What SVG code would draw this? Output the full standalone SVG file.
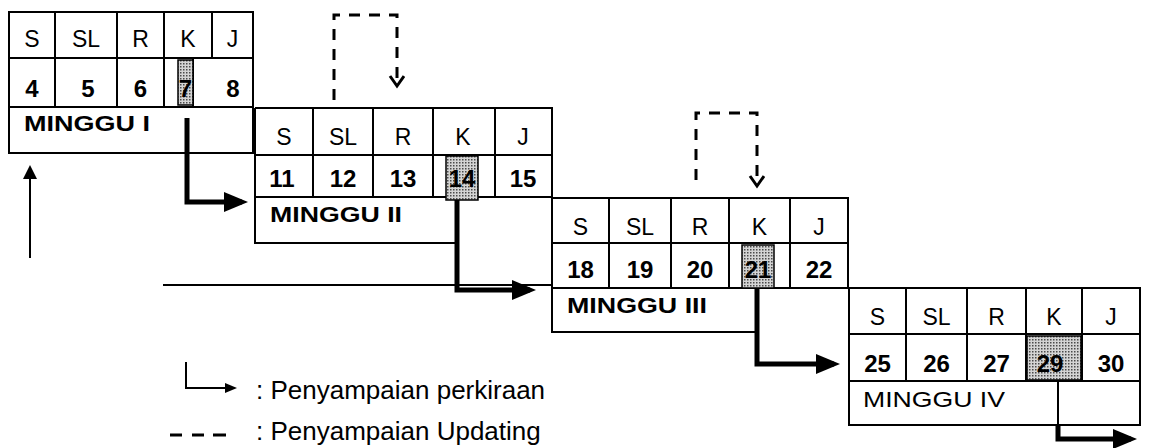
<svg xmlns="http://www.w3.org/2000/svg" width="1149" height="448" viewBox="0 0 1149 448">
  <style>
    .grid { fill: none; stroke: #000; stroke-width: 2; }
    .day { font-family: "Liberation Sans", Arial, sans-serif; font-size: 23px; text-anchor: middle; fill: #000; }
    .num { font-family: "Liberation Sans", Arial, sans-serif; font-size: 24px; font-weight: bold; text-anchor: middle; fill: #000; }
    .wk { font-family: "Liberation Sans", Arial, sans-serif; font-size: 22px; font-weight: bold; fill: #000; }
    .wk-light { font-weight: normal; }
    .legend { font-family: "Liberation Sans", Arial, sans-serif; font-size: 26px; fill: #000; }
    .shade { fill: url(#dots); stroke: #000; stroke-width: 1.5; }
    .flow { fill: none; stroke: #000; stroke-width: 5; }
    .update { fill: none; stroke: #000; stroke-width: 3; stroke-dasharray: 11 9; }
    .thin { fill: none; stroke: #000; stroke-width: 2; }
  </style>
  <defs>
    <pattern id="dots" width="3" height="3" patternUnits="userSpaceOnUse">
      <rect width="3" height="3" fill="#d4d4d4"/>
      <rect width="1.5" height="1.5" fill="#4a4a4a"/>
    </pattern>
    <marker id="headBold" markerUnits="userSpaceOnUse" markerWidth="26" markerHeight="22" refX="18" refY="10" orient="auto">
      <path d="M0,0 L24,10 L0,20 Z" fill="#000"/>
    </marker>
    <marker id="headThin" markerUnits="userSpaceOnUse" markerWidth="16" markerHeight="14" refX="8" refY="7" orient="auto">
      <path d="M0,0 L14,7 L0,14 Z" fill="#000"/>
    </marker>
    <marker id="headOpen" markerUnits="userSpaceOnUse" markerWidth="16" markerHeight="18" refX="11" refY="8" orient="auto">
      <path d="M1,1 L11,8 L1,15" fill="none" stroke="#000" stroke-width="3"/>
    </marker>
    <marker id="headSmall" markerUnits="userSpaceOnUse" markerWidth="14" markerHeight="12" refX="6" refY="5" orient="auto">
      <path d="M0,0 L12,5 L0,10 Z" fill="#000"/>
    </marker>
  </defs>

  <!-- Week I -->
  <g id="week1">
    <rect class="grid" x="9" y="12" width="244" height="141"/>
    <path class="grid" d="M9,58 H253 M9,107 H253 M55,12 V107 M117,12 V107 M164,12 V107 M212,12 V58 M193,58 V107"/>
    <rect class="shade" x="178" y="60" width="15" height="45"/>
    <text class="day" x="32" y="47">S</text>
    <text class="day" x="86" y="47">SL</text>
    <text class="day" x="140.5" y="47">R</text>
    <text class="day" x="188" y="47">K</text>
    <text class="day" x="232.5" y="47">J</text>
    <text class="num" x="32" y="97">4</text>
    <text class="num" x="88" y="97">5</text>
    <text class="num" x="140.5" y="97">6</text>
    <text class="num" x="185.5" y="97">7</text>
    <text class="num" x="233" y="97">8</text>
    <text class="wk" x="24" y="131" textLength="126" lengthAdjust="spacingAndGlyphs">MINGGU I</text>
  </g>

  <!-- Week II -->
  <g id="week2">
    <path class="grid" d="M255,108 H552 V197 M255,108 V243 H457 M255,155 H552 M255,197 H552 M313,108 V197 M373,108 V197 M433,108 V197 M495,108 V197"/>
    <rect class="shade" x="446" y="156" width="32" height="44"/>
    <text class="day" x="284" y="145">S</text>
    <text class="day" x="343" y="145">SL</text>
    <text class="day" x="403" y="145">R</text>
    <text class="day" x="463" y="145">K</text>
    <text class="day" x="523" y="145">J</text>
    <text class="num" x="282" y="187">11</text>
    <text class="num" x="343" y="187">12</text>
    <text class="num" x="403" y="187">13</text>
    <text class="num" x="462" y="187">14</text>
    <text class="num" x="523" y="187">15</text>
    <text class="wk" x="270" y="222" textLength="132" lengthAdjust="spacingAndGlyphs">MINGGU II</text>
  </g>

  <!-- Week III -->
  <g id="week3">
    <path class="grid" d="M552,198 H848 V288 M552,198 V332 H757 M552,243 H848 M552,288 H848 M609,198 V288 M671,198 V288 M729,198 V288 M790,198 V288"/>
    <rect class="shade" x="742" y="245" width="32" height="43"/>
    <text class="day" x="580.5" y="235">S</text>
    <text class="day" x="640" y="235">SL</text>
    <text class="day" x="700" y="235">R</text>
    <text class="day" x="759.5" y="235">K</text>
    <text class="day" x="819" y="235">J</text>
    <text class="num" x="580.5" y="278">18</text>
    <text class="num" x="640" y="278">19</text>
    <text class="num" x="700" y="278">20</text>
    <text class="num" x="758" y="278">21</text>
    <text class="num" x="819" y="278">22</text>
    <text class="wk" x="567" y="313" textLength="140" lengthAdjust="spacingAndGlyphs">MINGGU III</text>
  </g>

  <!-- Week IV -->
  <g id="week4">
    <rect class="grid" x="849" y="288" width="291" height="137"/>
    <path class="grid" d="M849,334 H1140 M849,381 H1140 M906,288 V381 M967,288 V381 M1026,288 V381 M1082,288 V381 M1058,381 V425"/>
    <rect class="shade" x="1027" y="336" width="54" height="44"/>
    <text class="day" x="877.5" y="325">S</text>
    <text class="day" x="936.5" y="325">SL</text>
    <text class="day" x="996.5" y="325">R</text>
    <text class="day" x="1054" y="325">K</text>
    <text class="day" x="1111" y="325">J</text>
    <text class="num" x="877.5" y="372">25</text>
    <text class="num" x="936.5" y="372">26</text>
    <text class="num" x="996.5" y="372">27</text>
    <text class="num" x="1050" y="372">29</text>
    <text class="num" x="1111" y="372">30</text>
    <text class="wk wk-light" x="863" y="407" textLength="142" lengthAdjust="spacingAndGlyphs">MINGGU IV</text>
  </g>

  <!-- Connectors: forecast hand-offs (bold), updates (dashed), time axis -->
  <g id="connectors">
    <path class="flow" d="M187,118 V202 H242" marker-end="url(#headBold)"/>
    <path class="flow" d="M457,200 V290 H530" marker-end="url(#headBold)"/>
    <path class="flow" d="M757,288 V364 H834" marker-end="url(#headBold)"/>
    <path class="flow" d="M1058,425 V439 H1131" marker-end="url(#headBold)"/>
    <path class="update" d="M334,100 V15 H397 V86" marker-end="url(#headOpen)"/>
    <path class="update" d="M696,180 V113 H757 V186" marker-end="url(#headOpen)"/>
    <path class="thin" d="M30,258 V171" marker-end="url(#headThin)"/>
    <path class="thin" d="M163,285 H552"/>
  </g>

  <!-- Legend -->
  <g id="legend">
    <path class="thin" d="M186,362 V388 H231" stroke-width="2.5" marker-end="url(#headSmall)"/>
    <path d="M170,435 H182 M192,435 H204 M213,435 H226" stroke="#000" stroke-width="3" fill="none"/>
    <text class="legend" x="256" y="399">: Penyampaian perkiraan</text>
    <text class="legend" x="256" y="440">: Penyampaian Updating</text>
  </g>
</svg>
